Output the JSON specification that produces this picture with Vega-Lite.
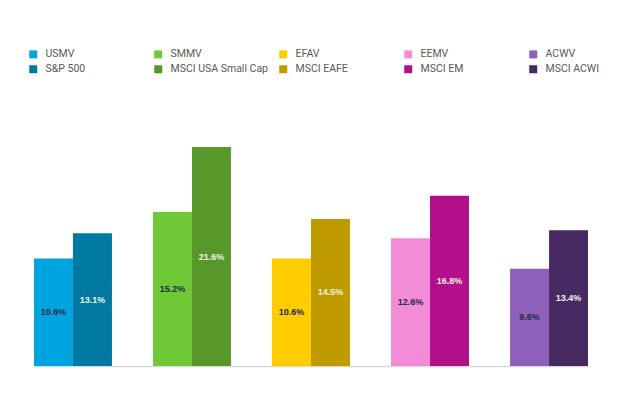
{
  "$schema": "https://vega.github.io/schema/vega-lite/v6.json",
  "autosize": "none",
  "width": 554,
  "height": 219,
  "padding": {"left": 34, "right": 32, "top": 147, "bottom": 32},
  "background": "#ffffff",
  "config": {"view": {"stroke": null}},
  "data": {
    "values": [
      {"group": "US", "role": "MV", "name": "USMV", "value": 10.6, "label": "10.6%"},
      {"group": "US", "role": "Index", "name": "S&P 500", "value": 13.1, "label": "13.1%"},
      {"group": "Small Cap", "role": "MV", "name": "SMMV", "value": 15.2, "label": "15.2%"},
      {"group": "Small Cap", "role": "Index", "name": "MSCI USA Small Cap", "value": 21.6, "label": "21.6%"},
      {"group": "EAFE", "role": "MV", "name": "EFAV", "value": 10.6, "label": "10.6%"},
      {"group": "EAFE", "role": "Index", "name": "MSCI EAFE", "value": 14.5, "label": "14.5%"},
      {"group": "EM", "role": "MV", "name": "EEMV", "value": 12.6, "label": "12.6%"},
      {"group": "EM", "role": "Index", "name": "MSCI EM", "value": 16.8, "label": "16.8%"},
      {"group": "ACWI", "role": "MV", "name": "ACWV", "value": 9.6, "label": "9.6%"},
      {"group": "ACWI", "role": "Index", "name": "MSCI ACWI", "value": 13.4, "label": "13.4%"}
    ]
  },
  "encoding": {
    "x": {
      "field": "group", "type": "nominal",
      "sort": ["US", "Small Cap", "EAFE", "EM", "ACWI"],
      "scale": {"paddingInner": 0.345, "paddingOuter": 0},
      "axis": {"labels": false, "ticks": false, "title": null, "domainColor": "#d9d9d9", "domainWidth": 1.5}
    },
    "xOffset": {
      "field": "role", "type": "nominal",
      "sort": ["MV", "Index"],
      "scale": {"paddingInner": 0, "paddingOuter": 0}
    }
  },
  "layer": [
    {
      "mark": {"type": "bar"},
      "encoding": {
        "y": {"field": "value", "type": "quantitative", "scale": {"domain": [0, 21.6], "nice": false}, "axis": null},
        "color": {
          "field": "name", "type": "nominal",
          "scale": {
            "domain": ["USMV", "SMMV", "EFAV", "EEMV", "ACWV", "S&P 500", "MSCI USA Small Cap", "MSCI EAFE", "MSCI EM", "MSCI ACWI"],
            "range": ["#00a5df", "#6fc835", "#ffcc00", "#f28bd8", "#8e60bc", "#0079a3", "#58982a", "#bf9b00", "#b40f8a", "#472a62"]
          },
          "legend": {
            "title": null,
            "orient": "none",
            "legendX": -6,
            "legendY": -98,
            "direction": "horizontal",
            "columns": 5,
            "gridAlign": "all",
            "columnPadding": 10,
            "rowPadding": 4,
            "symbolType": "square",
            "symbolSize": 64,
            "symbolStrokeWidth": 0,
            "labelFont": "Roboto, sans-serif",
            "labelFontSize": 10.5,
            "labelColor": "#595959",
            "labelOffset": 7,
            "labelLimit": 200
          }
        }
      }
    },
    {
      "mark": {"type": "text", "font": "Liberation Sans, Arial, sans-serif", "fontWeight": "bold", "fontSize": 9, "baseline": "middle", "align": "center"},
      "encoding": {
        "y": {"field": "value", "type": "quantitative", "scale": {"domain": [0, 43.2], "nice": false}, "axis": null},
        "text": {"field": "label"},
        "color": {
          "field": "role", "type": "nominal",
          "scale": {"domain": ["MV", "Index"], "range": ["#1b2a45", "#f3f1e6"]},
          "legend": null
        }
      }
    }
  ],
  "resolve": {"scale": {"color": "independent", "y": "independent"}}
}
